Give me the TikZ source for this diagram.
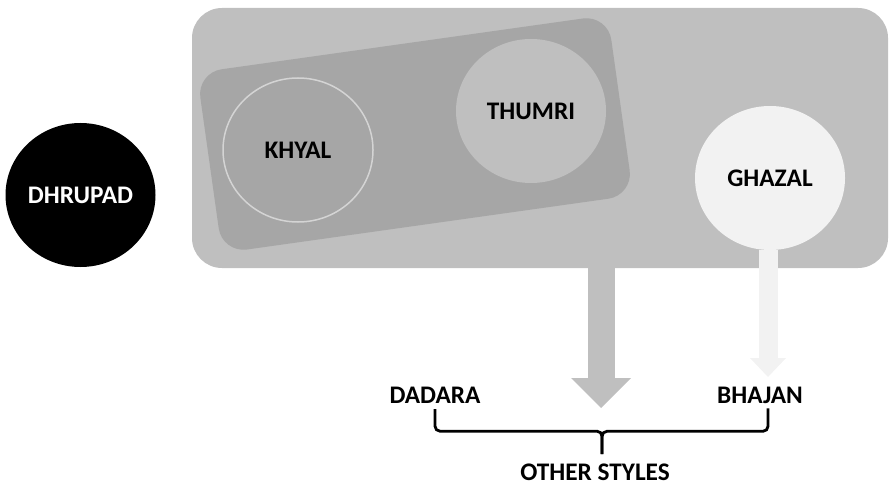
\documentclass[tikz,border=0pt]{standalone}
\usepackage{fontspec}
\setmainfont{Carlito}
\usetikzlibrary{arrows.meta,positioning,shapes.geometric}
\definecolor{poolgray}{HTML}{BFBFBF}
\definecolor{pairgray}{HTML}{A6A6A6}
\definecolor{ringgray}{HTML}{D4D4D4}
\definecolor{palegray}{HTML}{F2F2F2}
\begin{document}
\begin{tikzpicture}[
    x=1pt, y=-1pt,
    every node/.style={font=\fontsize{25.3}{29}\selectfont\bfseries, inner sep=0pt, outer sep=0pt},
    genre/.style={ellipse, minimum width=150pt, minimum height=144pt},
    word/.style={text=black},
    fatarrow/.style={line width=27pt, poolgray, -{Triangle[width=60pt, length=30pt, line width=0pt]}},
    palearrow/.style={line width=19pt, palegray, -{Triangle[width=36pt, length=19pt, line width=0pt]}},
    bracket/.style={draw, line width=2.8pt, rounded corners=5pt}
]
    \useasboundingbox (0,0) rectangle (890,486);

    % Light classical group
    \node[fill=poolgray, rounded corners=30pt, minimum width=696pt, minimum height=260pt] (pool) at (540,138) {};
    \coordinate (poolend) at (601,408);
    \draw[fatarrow] (pool.center -| poolend) -- (poolend);

    % Tilted band
    \node[fill=pairgray, rounded corners=25pt, minimum width=415pt, minimum height=182pt, rotate=8] (pair) at (415,134) {};

    % Styles
    \node[genre, fill=black, text=white] (dhrupad) at (80.5,195) {DHRUPAD};
    \node[genre, fill=pairgray, draw=ringgray, line width=1.5pt] (khyal) at (298,150) {KHYAL};
    \node[genre, fill=poolgray] (thumri) at (531,111) {THUMRI};
    \node[genre, fill=palegray] (ghazal) at (770,178) {GHAZAL};

    % Ghazal to Bhajan
    \coordinate (ghazalend) at (768,377);
    \draw[palearrow] (ghazal.south -| ghazalend) -- (ghazalend);

    % Other styles
    \node[word] (dadara) at (435,395) {DADARA};
    \node[word] (bhajan) at (760,395) {BHAJAN};
    \node[word] (others) at (595,472.5) {OTHER STYLES};

    % Brace
    \draw[bracket] ([yshift=-6pt]dadara.south) -- ++(0,22) -| ([xshift=7pt, yshift=10pt]others.north);
    \draw[bracket] ([xshift=8pt, yshift=-5pt]bhajan.south) -- ++(0,23) -| ([xshift=7pt, yshift=10pt]others.north);
\end{tikzpicture}
\end{document}
